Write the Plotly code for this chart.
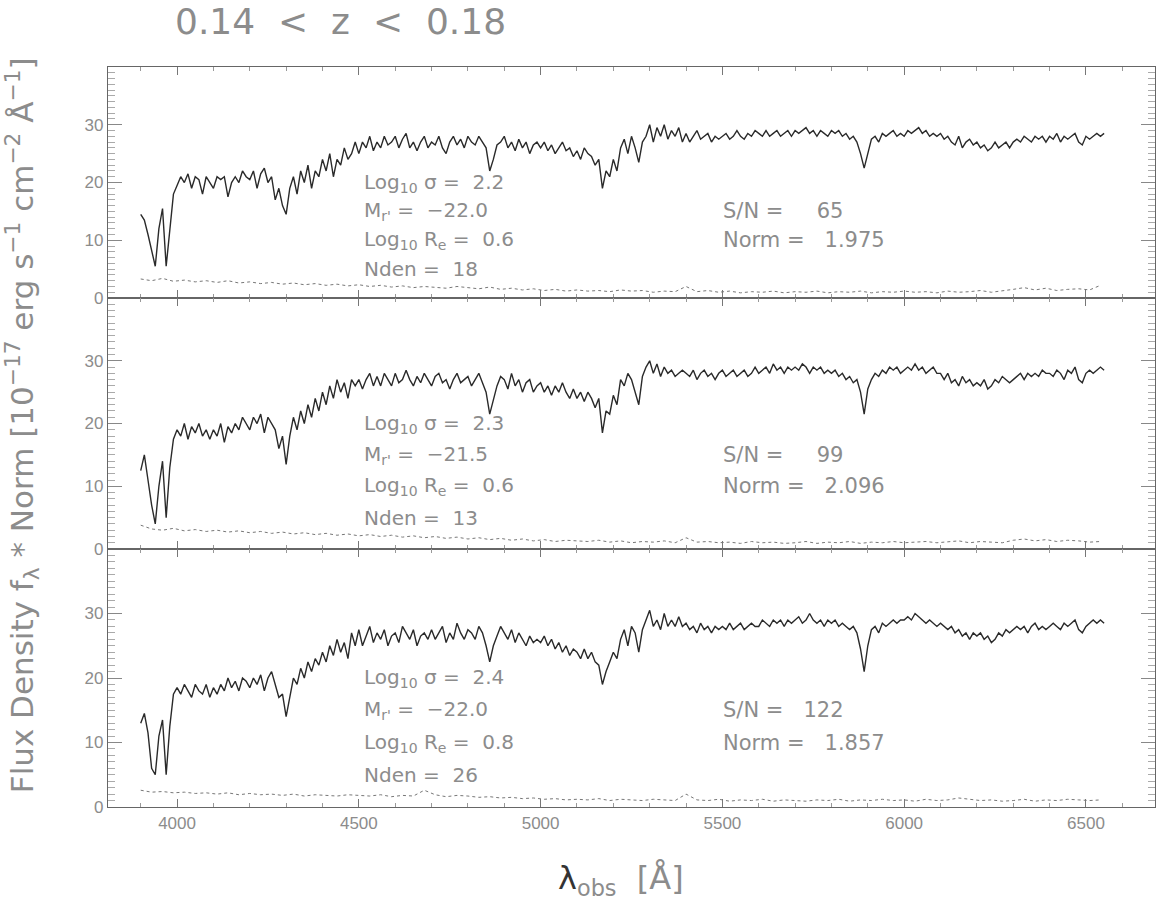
import plotly.graph_objects as go

# ---------------- data ----------------
wave = list(range(3900, 6560, 10))          # 266 wavelength samples [Å]
err_wave = list(range(3900, 6570, 30))      # 89 samples for the noise spectra

flux_1 = [
    14.5, 13.5, 11, 8, 5.5, 12, 15.5, 5.5, 12, 18,
    19.5, 21, 20, 21.5, 19, 21, 20.5, 18, 21, 20,
    19, 21, 20.5, 21, 17.5, 20, 21, 20, 22, 21,
    20.5, 22, 19, 21.5, 22.5, 20, 21, 17, 19, 16,
    14.5, 19, 21, 18, 22, 20, 23, 19, 22, 21,
    24, 22, 25, 21, 24, 23, 26, 24, 25, 27,
    25, 27, 26, 28, 25.5, 27, 26, 28, 26.5, 27,
    28, 26, 27.5, 28.5, 26, 27, 25.5, 27, 28, 26,
    27, 26.5, 28, 26, 25, 27, 28, 26.5, 27.5, 26,
    28, 27, 26.5, 28, 27, 26, 22, 24, 26.5, 27,
    28, 26, 27, 25.5, 27.5, 26, 27, 25, 26.5, 27,
    26, 27, 25.5, 26.5, 25, 26, 27, 25.5, 26, 24.5,
    25.5, 24, 26, 25, 24.5, 23, 24, 19, 22, 21,
    24, 22, 26, 27.5, 25, 28, 26, 23.5, 27, 28,
    30, 27, 29.5, 28, 30, 27.5, 29, 28, 29.5, 27,
    28.5, 27, 28, 29, 27.5, 28, 28.5, 27, 28, 27.5,
    28, 28.5, 27.5, 28, 29, 28, 27.5, 28.5, 28, 29,
    28.5, 28, 29, 28, 28.5, 29, 28, 28.5, 29, 28,
    29, 28.5, 29, 29.5, 28.5, 29, 28, 29, 28.5, 28,
    29, 28.5, 29, 28, 28.5, 27.5, 28, 27, 25, 22.5,
    25, 27.5, 28, 27, 28.5, 28, 28.5, 29, 28, 28.5,
    28, 29, 28.5, 29, 29.5, 28.5, 29, 28, 28.5, 28,
    28.5, 27.5, 28, 27, 26.5, 28, 26, 27, 27.5, 26.5,
    27, 26, 26.5, 25.5, 26, 27, 26, 26.5, 27, 26,
    27, 27.5, 27, 28, 27.5, 27, 28, 27.5, 28, 27,
    28, 27.5, 28.5, 27, 28, 27.5, 28, 28.5, 27, 26.5,
    28, 27.5, 28, 28.5, 28, 28.5,
]

flux_2 = [
    12.5, 15, 11, 7, 4, 10, 14, 5, 13, 17.5,
    19, 18, 20, 17.5, 19.5, 18.5, 20, 18, 19, 17.5,
    19, 18, 20, 17, 19.5, 18.5, 20, 19, 21, 20,
    19, 21, 20, 21.5, 18.5, 21, 20, 19, 16, 18,
    13.5, 18, 21, 19, 22, 20, 23, 21, 24, 22,
    25, 23, 26, 24, 27, 25, 26.5, 24, 27, 26,
    27, 25.5, 27, 28, 26, 27.5, 26, 28, 27, 26,
    28, 26.5, 27, 28.5, 27, 26, 27.5, 26.5, 28, 27,
    26, 27.5, 28, 26.5, 27, 25.5, 27, 28, 26.5, 27,
    27.5, 26, 27, 28, 26.5, 25, 21.5, 24, 26, 27.5,
    27, 25.5, 28, 26, 27, 25, 26.5, 27, 25, 26,
    26.5, 25, 26, 24.5, 26, 25, 26.5, 25, 24, 25.5,
    24, 25, 23.5, 25, 24, 22.5, 24, 18.5, 22, 21.5,
    24.5, 23, 27, 26, 28, 27, 25, 23, 27.5, 29,
    30, 28, 29.5, 27.5, 29, 28, 28.5, 27.5, 28, 28.5,
    28, 27.5, 28.5, 27, 28, 28.5, 27.5, 28, 27, 28,
    28.5, 27.5, 28, 28.5, 27.5, 28, 28.5, 27.5, 28, 29,
    28, 28.5, 29, 28, 29.5, 28.5, 29, 28, 29, 28.5,
    29, 28.5, 29.5, 29, 28, 29, 28.5, 29, 28, 28.5,
    28, 28.5, 27.5, 28, 27, 27.5, 26.5, 27, 25, 21.5,
    25.5, 27, 28, 27.5, 28.5, 28, 29, 28.5, 29, 28,
    28.5, 29, 28.5, 29.5, 28.5, 29, 28, 28.5, 29, 28,
    28, 27, 28, 26.5, 27, 26, 27.5, 26.5, 27, 26,
    26.5, 26, 27, 25.5, 26, 27, 26.5, 27.5, 27, 26.5,
    27, 27.5, 28, 27, 28, 27.5, 28, 27.5, 28.5, 28,
    28, 27.5, 28.5, 28, 27, 28.5, 28, 29, 27, 26.5,
    28, 28.5, 28, 28.5, 29, 28.5,
]

flux_3 = [
    13, 14.5, 11.5, 6, 5, 11, 13.5, 5, 12.5, 17.5,
    18.5, 17.5, 19, 18, 17, 19, 18, 17.5, 19, 17,
    18.5, 17.5, 19, 18, 20, 18.5, 19.5, 18, 20, 19.5,
    18.5, 20, 19, 20.5, 18, 20, 21, 19, 17, 17.5,
    14, 17, 20, 19, 21.5, 20, 22.5, 21, 23, 22,
    24, 22.5, 25, 23.5, 26, 24, 25.5, 23, 27, 25,
    27.5, 25, 26.5, 28, 25.5, 27, 26, 27.5, 25, 26.5,
    27, 25.5, 28, 27, 26, 27.5, 25, 26.5, 27, 26,
    27.5, 26, 27, 28, 25.5, 27, 26, 28.5, 27, 26,
    27.5, 27, 26, 28, 27, 25, 22.5, 25, 26.5, 28,
    27, 26, 27.5, 25.5, 27, 26, 25, 26.5, 25.5, 26,
    25.5, 26.5, 25, 26, 24.5, 25.5, 24, 25, 23.5, 24.5,
    24, 23, 24.5, 23, 24, 22.5, 22, 19, 21, 22.5,
    24, 23, 26, 27.5, 25, 28, 27, 24, 27.5, 29,
    30.5, 28, 29, 27.5, 30, 28, 29, 28, 29.5, 28,
    28.5, 27.5, 28, 27, 28.5, 27.5, 28, 27, 28, 27.5,
    28, 27.5, 28.5, 27.5, 28, 28.5, 27.5, 28, 28.5, 28,
    28, 29, 28.5, 28, 29, 28.5, 29, 28, 29, 28.5,
    29, 29.5, 28.5, 29, 30, 29, 28.5, 29, 28, 29,
    28.5, 29, 28, 28.5, 28, 27.5, 28, 27, 24.5, 21,
    25, 27.5, 28, 27, 28.5, 28, 28.5, 29, 28.5, 29,
    29, 29.5, 29, 30, 29.5, 29, 28.5, 29, 28.5, 28,
    28.5, 28, 27.5, 28, 27, 27.5, 26.5, 27, 26, 27,
    26.5, 27, 26, 26.5, 25.5, 26, 27, 26.5, 27.5, 27,
    27.5, 28, 27.5, 28, 27, 28, 28.5, 27.5, 28, 27.5,
    28, 28.5, 28, 27.5, 28.5, 28, 28.5, 29, 27.5, 27,
    28, 28.5, 29, 28.5, 29, 28.5,
]

err_1 = [
    3.3, 3.0, 3.4, 2.9, 3.1, 2.8, 3.0, 2.7, 3.0, 2.6,
    2.8, 2.5, 2.7, 2.4, 2.6, 2.3, 2.5, 2.2, 2.4, 2.1,
    2.3, 2.0, 2.2, 1.9, 2.1, 1.8, 2.0, 1.9, 1.7, 2.0,
    1.8, 1.6, 1.9, 1.5, 1.7, 1.4, 1.6, 1.3, 1.5, 1.2,
    1.4, 1.2, 1.3, 1.1, 1.4, 1.2, 1.3, 1.0, 1.2, 1.1,
    2.0, 1.1, 1.3, 1.0, 1.2, 0.9, 1.1, 1.0, 1.2, 0.9,
    1.1, 1.0, 1.2, 0.9, 1.1, 1.0, 1.2, 0.9, 1.1, 1.0,
    1.2, 1.0, 1.1, 0.9, 1.2, 1.0, 1.1, 1.3, 1.0, 1.2,
    1.5, 1.8, 1.4, 1.7, 1.3, 1.5, 1.6, 1.4, 2.2,
]
err_2 = [
    3.8, 3.2, 3.0, 3.3, 2.9, 3.1, 2.8, 3.0, 2.7, 2.9,
    2.6, 2.8, 2.5, 2.7, 2.4, 2.6, 2.3, 2.5, 2.2, 2.4,
    2.1, 2.3, 2.0, 2.2, 1.9, 2.1, 1.8, 2.0, 1.7, 1.9,
    1.6, 1.8, 1.5, 1.7, 1.4, 1.6, 1.3, 1.5, 1.2, 1.4,
    1.3, 1.2, 1.4, 1.1, 1.3, 1.0, 1.2, 1.1, 1.3, 1.0,
    1.8, 1.1, 1.2, 1.0, 1.1, 0.9, 1.2, 1.0, 1.1, 0.9,
    1.0, 1.2, 0.9, 1.1, 1.0, 1.2, 0.9, 1.1, 1.0, 1.2,
    1.0, 1.1, 1.2, 1.0, 1.1, 1.3, 1.0, 1.2, 1.1, 1.0,
    1.4, 1.6, 1.3, 1.5, 1.2, 1.4, 1.3, 1.1, 1.2,
]
err_3 = [
    2.6, 2.3, 2.4, 2.2, 2.3, 2.1, 2.2, 2.0, 2.2, 1.9,
    2.1, 1.9, 2.0, 1.8, 2.0, 1.7, 1.9, 1.8, 1.7, 1.9,
    1.8, 1.7, 1.9, 1.6, 1.8, 1.7, 2.6, 1.9, 1.6, 1.8,
    1.7, 1.5, 1.6, 1.4, 1.5, 1.3, 1.4, 1.2, 1.3, 1.1,
    1.2, 1.1, 1.3, 1.0, 1.2, 1.1, 1.0, 1.2, 1.1, 1.0,
    2.0, 1.1, 1.0, 1.2, 0.9, 1.1, 1.0, 1.2, 0.9, 1.1,
    1.0, 0.9, 1.1, 1.0, 1.2, 0.9, 1.1, 1.0, 1.2, 1.0,
    1.1, 0.9, 1.2, 1.0, 1.1, 1.4, 1.2, 1.0, 1.1, 0.9,
    1.0, 1.2, 0.9, 1.1, 1.0, 1.2, 1.1, 1.0, 1.1,
]

log_sigma = ["2.2", "2.3", "2.4"]
abs_mag = ["−22.0", "−21.5", "−22.0"]
log_re = ["0.6", "0.6", "0.8"]
nden = ["18", "13", "26"]
snr = ["65", "99", "122"]
norm = ["1.975", "2.096", "1.857"]

x_ticks = [4000, 4500, 5000, 5500, 6000, 6500]
y_ticks = [0, 10, 20, 30]

fluxes = [flux_1, flux_2, flux_3]
errs = [err_1, err_2, err_3]

# ---------------- layout geometry ----------------
domains = [[0.6878, 1.0], [0.3486, 0.6878], [0.0, 0.3486]]
x_range = [3810, 6690]
y_range = [0, 40]

GRAY = "#8c8c8c"
FONT = "Liberation Sans"
WFONT = "DejaVu Sans"
NB = "\u00a0"

fig = go.Figure()

for p in range(3):
    sfx = "" if p == 0 else str(p + 1)
    fig.add_trace(go.Scatter(
        x=wave[:len(fluxes[p])], y=fluxes[p], mode="lines",
        line=dict(color="#2a2a2a", width=1.4),
        xaxis="x" + sfx, yaxis="y" + sfx, showlegend=False, hoverinfo="skip"))
    fig.add_trace(go.Scatter(
        x=err_wave[:len(errs[p])], y=errs[p], mode="lines",
        line=dict(color="#777777", width=1, dash="dot"),
        xaxis="x" + sfx, yaxis="y" + sfx, showlegend=False, hoverinfo="skip"))

    xa = dict(
        domain=[0, 1], range=x_range, anchor="y" + sfx,
        showgrid=False, zeroline=False, showline=True, linecolor="#666", linewidth=1.2,
        ticks="inside", ticklen=8, tickcolor="#777", tickwidth=1,
        tickvals=x_ticks, mirror="allticks",
        minor=dict(ticks="inside", ticklen=4, dtick=100, tickcolor="#999", showgrid=False),
        showticklabels=(p == 2),
        tickfont=dict(family=FONT, size=17, color=GRAY),
    )
    ya = dict(
        domain=domains[p], range=y_range, anchor="x" + sfx,
        showgrid=False, zeroline=False, showline=True, linecolor="#666", linewidth=1.2,
        ticks="inside", ticklen=14, tickcolor="#888", tickwidth=1,
        tickvals=y_ticks, mirror="allticks",
        minor=dict(ticks="inside", ticklen=7, dtick=1, tickcolor="#aaa", showgrid=False),
        tickfont=dict(family=FONT, size=17, color=GRAY),
    )
    fig.layout["xaxis" + sfx] = xa
    fig.layout["yaxis" + sfx] = ya

    ann_font = dict(family=WFONT, size=20, color=GRAY)
    eq = NB + "=" + NB + NB
    left_lines = [
        (20, f"Log<sub>10</sub> σ{eq}{log_sigma[p]}"),
        (15, f"M<sub>r'</sub>{eq}{abs_mag[p]}"),
        (10, f"Log<sub>10</sub> R<sub>e</sub>{eq}{log_re[p]}"),
        (5, f"Nden{eq}{nden[p]}"),
    ]
    for yv, txt in left_lines:
        fig.add_annotation(x=4510, y=yv, xref="x" + sfx, yref="y" + sfx,
                           text=txt, showarrow=False, xanchor="left", yanchor="middle",
                           font=ann_font)
    snr_pad = NB * (2 * (3 - len(snr[p])) + 1)
    right_lines = [
        (15, f"S/N{eq}{snr_pad}{snr[p]}"),
        (10, f"Norm{eq}{NB}{norm[p]}"),
    ]
    for yv, txt in right_lines:
        fig.add_annotation(x=5495, y=yv, xref="x" + sfx, yref="y" + sfx,
                           text=txt, showarrow=False, xanchor="left", yanchor="middle",
                           font=dict(family=WFONT, size=21, color=GRAY))

# title
fig.add_annotation(x=0.222, y=1.061, xref="paper", yref="paper",
                   text=f"0.14{NB}{NB}&lt;{NB}{NB}z{NB}{NB}&lt;{NB}{NB}0.18", showarrow=False,
                   xanchor="center", yanchor="middle",
                   font=dict(family=WFONT, size=36, color=GRAY))
# y label
fig.add_annotation(x=-0.0821, y=0.516, xref="paper", yref="paper",
                   text=("Flux Density f<sub>λ</sub> * Norm "
                         "[10<sup>−17</sup> erg s<sup>−1</sup> cm<sup>−2</sup> Å<sup>−1</sup>]"),
                   showarrow=False, textangle=-90, xanchor="center", yanchor="middle",
                   font=dict(family=WFONT, size=31, color=GRAY))
# x label
fig.add_annotation(x=0.49, y=-0.0986, xref="paper", yref="paper",
                   text=f"<span style='color:#333'>λ</span><sub>obs</sub>{NB}{NB}[Å]",
                   showarrow=False, xanchor="center", yanchor="middle",
                   font=dict(family=WFONT, size=32, color=GRAY))

fig.update_layout(
    width=1164, height=905,
    margin=dict(l=108, r=9, t=67, b=98),
    paper_bgcolor="white", plot_bgcolor="white",
)

fig.write_html("out.html")
